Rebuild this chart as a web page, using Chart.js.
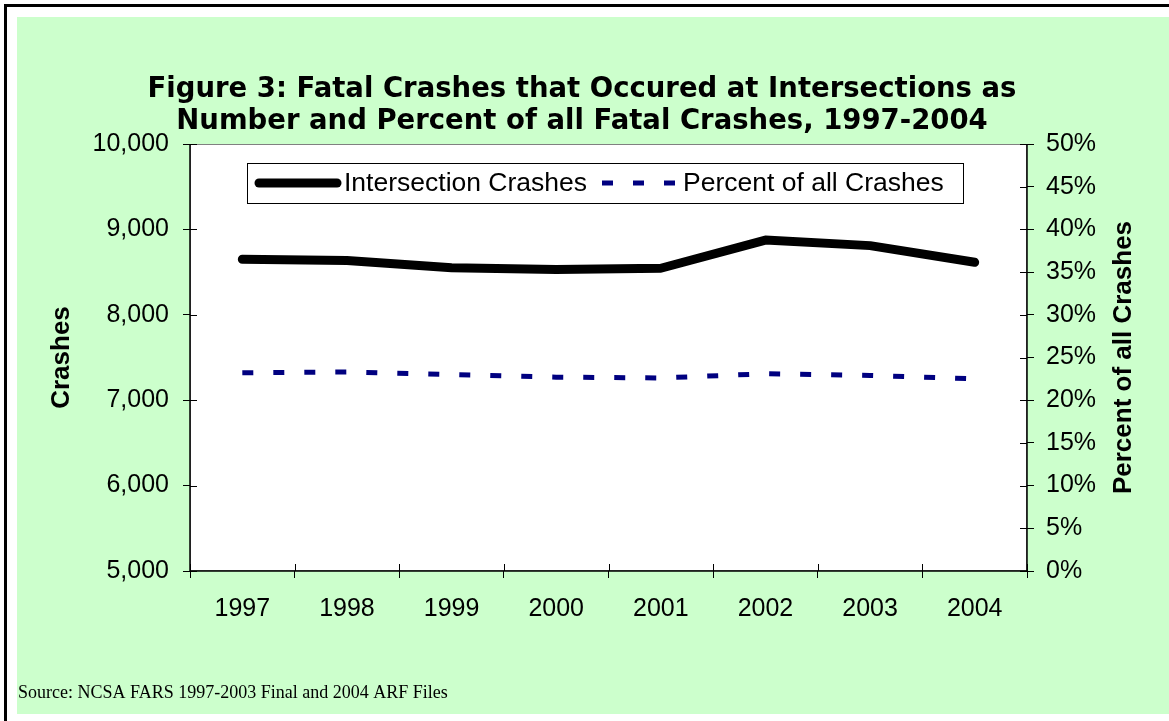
<!DOCTYPE html>
<html>
<head>
<meta charset="utf-8">
<title>Figure 3: Fatal Crashes at Intersections</title>
<script src="https://cdn.jsdelivr.net/npm/chart.js@4.4.0/dist/chart.umd.min.js"></script>
<style>
    html, body { margin: 0; padding: 0; background: #ffffff; }
    #wrap { width: 1169px; height: 721px; position: relative; }
</style>
</head>
<body>
<div id="wrap"><canvas id="crashChart" width="1169" height="721"></canvas></div>
<script>
// Data
const years = ['1997', '1998', '1999', '2000', '2001', '2002', '2003', '2004'];
const intersectionCrashes = [8650, 8635, 8550, 8530, 8545, 8875, 8810, 8615];
const percentOfAllCrashes = [23.2, 23.3, 23.0, 22.7, 22.6, 23.1, 22.9, 22.5];
const titleLines = [
    'Figure 3: Fatal Crashes that Occured at Intersections as',
    'Number and Percent of all Fatal Crashes, 1997-2004'
];
const sourceNote = 'Source: NCSA FARS 1997-2003 Final and 2004 ARF Files';

const GREEN = '#CCFFCC';
const NAVY = '#000080';
const TICK_FONT = { family: '"Liberation Sans", Arial, sans-serif', size: 25 };

// Backgrounds, frame and plot area fill
const backgroundPlugin = {
    id: 'background',
    beforeDraw(chart) {
        const ctx = chart.ctx;
        const a = chart.chartArea;
        ctx.save();
        ctx.fillStyle = '#ffffff';
        ctx.fillRect(0, 0, chart.width, chart.height);
        ctx.fillStyle = GREEN;
        ctx.fillRect(17, 17, chart.width - 17, 697);
        ctx.strokeStyle = '#000000';
        ctx.lineWidth = 3;
        ctx.beginPath();
        ctx.moveTo(5.5, chart.height);
        ctx.lineTo(5.5, 5.5);
        ctx.lineTo(chart.width, 5.5);
        ctx.stroke();
        ctx.fillStyle = '#ffffff';
        ctx.fillRect(a.left, a.top, a.right - a.left, a.bottom - a.top);
        ctx.restore();
    }
};

// Plot border, inward tick halves, titles, legend and source line
const decorPlugin = {
    id: 'decor',
    afterDraw(chart) {
        const ctx = chart.ctx;
        const a = chart.chartArea;
        ctx.save();

        // plot area border
        ctx.strokeStyle = '#808080';
        ctx.lineWidth = 1;
        ctx.strokeRect(a.left + 0.5, a.top + 0.5, a.right - a.left - 1, a.bottom - a.top - 1);
        ctx.strokeStyle = '#000000';
        ctx.lineWidth = 1.5;
        ctx.beginPath();
        ctx.moveTo(a.left, a.top);
        ctx.lineTo(a.left, a.bottom);
        ctx.lineTo(a.right, a.bottom);
        ctx.moveTo(a.right, a.top);
        ctx.lineTo(a.right, a.bottom);
        ctx.stroke();

        // inward halves of the cross ticks
        ctx.lineWidth = 1;
        ctx.beginPath();
        const yL = chart.scales.y;
        yL.ticks.forEach((t, i) => {
            const py = Math.round(yL.getPixelForTick(i)) + 0.5;
            ctx.moveTo(a.left, py);
            ctx.lineTo(a.left + 7, py);
        });
        const yR = chart.scales.y1;
        yR.ticks.forEach((t, i) => {
            const py = Math.round(yR.getPixelForTick(i)) + 0.5;
            ctx.moveTo(a.right - 7, py);
            ctx.lineTo(a.right, py);
        });
        for (let i = 0; i <= years.length; i++) {
            const px = Math.round(a.left + (a.right - a.left) * i / years.length) + 0.5;
            ctx.moveTo(px, a.bottom - 7);
            ctx.lineTo(px, a.bottom);
        }
        ctx.stroke();

        // chart title
        ctx.fillStyle = '#000000';
        ctx.font = 'bold 27.5px "DejaVu Sans", Verdana, sans-serif';
        ctx.textAlign = 'center';
        ctx.textBaseline = 'alphabetic';
        ctx.fillText(titleLines[0], 582, 97);
        ctx.fillText(titleLines[1], 582, 129);

        // axis titles
        ctx.font = 'bold 26px "Liberation Sans", Arial, sans-serif';
        ctx.textBaseline = 'middle';
        ctx.save();
        ctx.translate(62, (a.top + a.bottom) / 2);
        ctx.rotate(-Math.PI / 2);
        ctx.fillText('Crashes', 0, 0);
        ctx.restore();
        ctx.save();
        ctx.translate(1124, (a.top + a.bottom) / 2);
        ctx.rotate(-Math.PI / 2);
        ctx.fillText('Percent of all Crashes', 0, 0);
        ctx.restore();

        // legend box inside the plot
        const ds = chart.data.datasets;
        ctx.fillStyle = '#ffffff';
        ctx.fillRect(247, 163, 716, 40);
        ctx.strokeStyle = '#000000';
        ctx.lineWidth = 1;
        ctx.strokeRect(247.5, 163.5, 716, 40);
        const ly = 183;
        ctx.lineWidth = ds[0].borderWidth;
        ctx.lineCap = 'round';
        ctx.strokeStyle = ds[0].borderColor;
        ctx.beginPath();
        ctx.moveTo(259, ly);
        ctx.lineTo(337, ly);
        ctx.stroke();
        ctx.lineCap = 'butt';
        ctx.lineWidth = ds[1].borderWidth;
        ctx.strokeStyle = ds[1].borderColor;
        ctx.setLineDash(ds[1].borderDash);
        ctx.beginPath();
        ctx.moveTo(602, ly);
        ctx.lineTo(678, ly);
        ctx.stroke();
        ctx.setLineDash([]);
        ctx.fillStyle = '#000000';
        ctx.font = '26.5px "Liberation Sans", Arial, sans-serif';
        ctx.textAlign = 'left';
        ctx.fillText(ds[0].label, 344, ly + 1);
        ctx.fillText(ds[1].label, 683, ly + 1);

        // source note
        ctx.font = '18px "Liberation Serif", "Times New Roman", serif';
        ctx.textBaseline = 'alphabetic';
        ctx.fillText(sourceNote, 18, 698);
        ctx.restore();
    }
};

new Chart(document.getElementById('crashChart'), {
    type: 'line',
    data: {
        labels: years,
        datasets: [
            {
                label: 'Intersection Crashes',
                data: intersectionCrashes,
                yAxisID: 'y',
                borderColor: '#000000',
                borderWidth: 9,
                borderCapStyle: 'round',
                borderJoinStyle: 'round',
                pointRadius: 0,
                tension: 0,
                fill: false
            },
            {
                label: 'Percent of all Crashes',
                data: percentOfAllCrashes,
                yAxisID: 'y1',
                borderColor: NAVY,
                borderWidth: 5,
                borderDash: [11, 20],
                borderCapStyle: 'butt',
                pointRadius: 0,
                tension: 0,
                fill: false
            }
        ]
    },
    options: {
        responsive: false,
        animation: false,
        devicePixelRatio: 1,
        layout: { padding: { left: 18, top: 144, right: 20, bottom: 60 } },
        plugins: {
            legend: { display: false },
            title: { display: false },
            tooltip: { enabled: false }
        },
        scales: {
            x: {
                type: 'category',
                offset: true,
                grid: { offset: true, drawOnChartArea: false, tickLength: 7, color: '#000000' },
                border: { display: false },
                ticks: { color: '#000000', font: TICK_FONT, padding: 16, maxRotation: 0 },
                afterFit(scale) { scale.height = 90; }
            },
            y: {
                position: 'left',
                min: 5000,
                max: 10000,
                grid: { drawOnChartArea: false, tickLength: 7, color: '#000000' },
                border: { display: false },
                ticks: {
                    stepSize: 1000,
                    color: '#000000',
                    font: TICK_FONT,
                    padding: 14,
                    callback: v => v.toLocaleString('en-US')
                },
                afterFit(scale) { scale.width = 172; }
            },
            y1: {
                position: 'right',
                min: 0,
                max: 50,
                grid: { drawOnChartArea: false, tickLength: 7, color: '#000000' },
                border: { display: false },
                ticks: {
                    stepSize: 5,
                    color: '#000000',
                    font: TICK_FONT,
                    padding: 12,
                    callback: v => v + '%'
                },
                afterFit(scale) { scale.width = 122; }
            }
        }
    },
    plugins: [backgroundPlugin, decorPlugin]
});
</script>
</body>
</html>
